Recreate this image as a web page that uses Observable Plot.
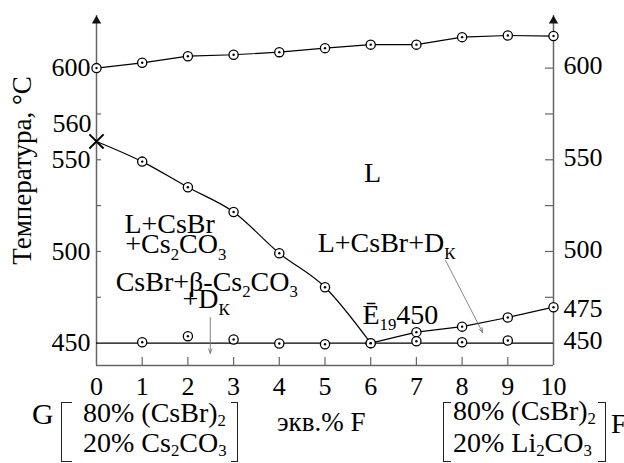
<!DOCTYPE html>
<html><head><meta charset="utf-8">
<script src="https://cdn.jsdelivr.net/npm/d3@7"></script>
<script src="https://cdn.jsdelivr.net/npm/@observablehq/plot@0.6"></script>
<style>
body{margin:0;background:#fff;}
#wrap{position:relative;width:624px;height:463px;font-family:"Liberation Serif","Times New Roman",serif;color:#000;overflow:hidden;background:#fff}
#wrap svg, #wrap svg text{font-family:"Liberation Serif","Times New Roman",serif !important;}
.t{position:absolute;white-space:nowrap;}
.br{position:absolute;border-color:#222;border-style:solid;border-width:0;box-sizing:border-box}
sub{font-size:60%;vertical-align:-0.22em;line-height:0}
</style></head><body><div id="wrap"></div>
<script>
// ---- data ----
const xTicks = [0,1,2,3,4,5,6,7,8,9,10];
const yTicks = [450,475,500,525,550,575,600];
const topX = [0,1,2,3,4,5,6,7,8,9,10];
const topT = [600,602.9,606.5,607.3,608.7,610.9,612.8,612.8,616.9,617.8,617.5];
const liqX = [0,1,2,3,4,5,6];
const liqT = [560,549,535,521.5,499,480.5,450];
const rightX = [6,7,8,9,10];
const rightT = [450,456,459,464,469.6];
const solX = [1,2,3,4,5,6,7,8,9];
const solT = [450.5,453.8,452,449.8,449.4,450,451,450.5,451.4];
const eutecticT = 450;
const leftLabels = ["600","550","500","450"];
const leftLabelT = [600,550,500,450];
const rightLabels = ["600","550","500","450"];
const rightLabelT = [600,550,500,450];
const yTitle = "Температура, °C";

const FONT = "'Liberation Serif', 'Times New Roman', serif";
const pts = (xs, ts) => xs.map((x,i)=>({x, t: ts[i]}));
const topPts = pts(topX, topT);
const liqPts = pts(liqX, liqT);
const rightPts = pts(rightX, rightT);
const solPts = pts(solX, solT);
const markerPts = [...topPts, ...liqPts.slice(1), ...rightPts.slice(1), ...solPts];

const annotations = [
  {x:0.61, t:510.2, s:"L+CsBr"},
  {x:0.63, t:498.9, s:"+Cs_{2}CO_{3}"},
  {x:0.42, t:478.7, s:"CsBr+β-Cs_{2}CO_{3}"},
  {x:1.88, t:468.9, s:"+D_{К}"},
  {x:4.84, t:499.5, s:"L+CsBr+D_{К}"},
  {x:5.82, t:460.7, s:"Ē_{19}450"}
];
const arrows = [
  {x1:2.49, y1:464, x2:2.49, y2:444.4},
  {x1:7.64, y1:495, x2:8.45, y2:455.8}
];

const FW = 624-96-71, FH = 400-15-35;
const axisGray = "#666";

const plot = Plot.plot({
  width: 624, height: 400,
  marginLeft: 96, marginRight: 71, marginTop: 15, marginBottom: 35,
  x: {domain:[0,10]},
  y: {domain:[437.8, 628.7], axis:null},
  style: `font-family: ${FONT}; font-size: 26px; background: #fff; color: #000; overflow: visible;`,
  marks: [
    Plot.ruleX([0,10], {x:d=>d, stroke:axisGray, strokeWidth:1.5}),
    Plot.ruleY([437.8], {y:d=>d, stroke:axisGray, strokeWidth:1.5}),
    Plot.dot([0,10], {x:d=>d, frameAnchor:"top", symbol:"triangle", r:3.5, fill:"#111", stroke:null, dy:5.4}),
    Plot.tickY(yTicks.slice(1), {y:d=>d, stroke:axisGray, strokeWidth:1.2, insetRight: FW-5}),
    Plot.tickY(yTicks.slice(1), {y:d=>d, stroke:axisGray, strokeWidth:1.2, insetLeft: FW-8}),
    Plot.tickX(xTicks.slice(1,-1), {x:d=>d, stroke:axisGray, strokeWidth:1.2, insetTop: FH-8}),
    Plot.axisX({ticks:xTicks, tickSize:0, tickPadding:11, fontSize:26, fontFamily:FONT, label:null, tickFormat:d=>String(d)}),
    Plot.text(leftLabelT, {y:d=>d, text:(d,i)=>leftLabels[i], frameAnchor:"left", textAnchor:"end", dx:-6, fontSize:26, fontFamily:FONT}),
    Plot.text([560], {y:d=>d, text:()=>"560", frameAnchor:"left", textAnchor:"end", dx:-5, dy:-18, fontSize:26, fontFamily:FONT}),
    Plot.text(rightLabelT, {y:d=>d, text:(d,i)=>rightLabels[i], frameAnchor:"right", textAnchor:"start", dx:10, dy:-2, fontSize:26, fontFamily:FONT}),
    Plot.text([rightT[rightT.length-1]], {y:d=>d, text:()=>"475", frameAnchor:"right", textAnchor:"start", dx:10, dy:1, fontSize:26, fontFamily:FONT}),
    Plot.text([yTitle], {text:d=>d, frameAnchor:"left", textAnchor:"middle", lineAnchor:"middle", rotate:-90, dx:-74, dy:-20, fontSize:27, fontFamily:FONT}),
    Plot.ruleY([eutecticT], {y:d=>d, stroke:"#000", strokeWidth:1.2}),
    Plot.line(topPts, {x:"x", y:"t", stroke:"#000", strokeWidth:1.2}),
    Plot.line(liqPts, {x:"x", y:"t", stroke:"#000", strokeWidth:1.2, curve:"monotone-x"}),
    Plot.line(rightPts, {x:"x", y:"t", stroke:"#000", strokeWidth:1.2}),
    Plot.arrow(arrows, {x1:"x1", y1:"y1", x2:"x2", y2:"y2", stroke:"#777", strokeWidth:0.9, headLength:8, headAngle:40}),
    Plot.dot(markerPts, {x:"x", y:"t", r:4.6, fill:"#fff", stroke:"#000", strokeWidth:1.3}),
    Plot.dot(markerPts, {x:"x", y:"t", r:1.2, fill:"#000", stroke:null}),
    Plot.dot([liqPts[0]], {x:"x", y:"t", symbol:"times", r:6.5, stroke:"#000", strokeWidth:2}),
    Plot.text(["L"], {x:()=>6.04, y:()=>543, text:d=>d, fontSize:28, fontFamily:FONT}),
    Plot.text(annotations, {x:"x", y:"t", text:"s", textAnchor:"start", lineAnchor:"bottom", fontSize:28, fontFamily:FONT})
  ]
});

const wrap = document.getElementById("wrap");
wrap.appendChild(plot);

// subscripts inside SVG text
const NS = "http://www.w3.org/2000/svg";
plot.querySelectorAll("text").forEach(t=>{
  const nodes = t.querySelectorAll("tspan").length ? [...t.querySelectorAll("tspan")] : [t];
  nodes.forEach(n=>{
    const s = n.textContent;
    if (!s.includes("_{")) return;
    const fs = parseFloat(getComputedStyle(n).fontSize) || 26;
    while (n.firstChild) n.removeChild(n.firstChild);
    let shifted = false;
    s.split(/(_\{[^}]*\})/).forEach(p=>{
      if (!p) return;
      const ts = document.createElementNS(NS, "tspan");
      if (p.startsWith("_{")) {
        ts.textContent = p.slice(2,-1);
        ts.setAttribute("font-size", fs*0.6);
        ts.setAttribute("dy", fs*0.22);
        shifted = true;
      } else {
        ts.textContent = p;
        if (shifted) { ts.setAttribute("dy", -fs*0.22); shifted = false; }
      }
      n.appendChild(ts);
    });
  });
});

// bottom composition labels (HTML under the SVG)
function label(html, left, baseline, fs){
  const d = document.createElement("div");
  d.className = "t";
  d.style.left = left+"px";
  d.style.fontSize = fs+"px";
  d.style.lineHeight = fs+"px";
  d.style.top = (baseline - 0.8375*fs)+"px";
  d.innerHTML = html;
  wrap.appendChild(d);
}
function bracket(left, width, side){
  const d = document.createElement("div");
  d.className = "br";
  d.style.left = left+"px"; d.style.width = width+"px";
  d.style.top = "402px"; d.style.height = "60px";
  d.style.borderTopWidth = "1.3px"; d.style.borderBottomWidth = "1.3px";
  if (side==="l") d.style.borderLeftWidth = "1.4px"; else d.style.borderRightWidth = "1.4px";
  wrap.appendChild(d);
}
label("G", 32, 424, 30);
bracket(61, 11, "l");
label("80% (CsBr)<sub>2</sub>", 83, 422, 28);
label("20% Cs<sub>2</sub>CO<sub>3</sub>", 83, 452, 28);
bracket(231, 7, "r");
label("экв.% F", 277, 432, 27);
bracket(443, 8, "l");
label("80% (CsBr)<sub>2</sub>", 453, 420, 28);
label("20% Li<sub>2</sub>CO<sub>3</sub>", 453, 452, 28);
bracket(598, 8, "r");
label("F", 611, 433, 28);
</script></body></html>
